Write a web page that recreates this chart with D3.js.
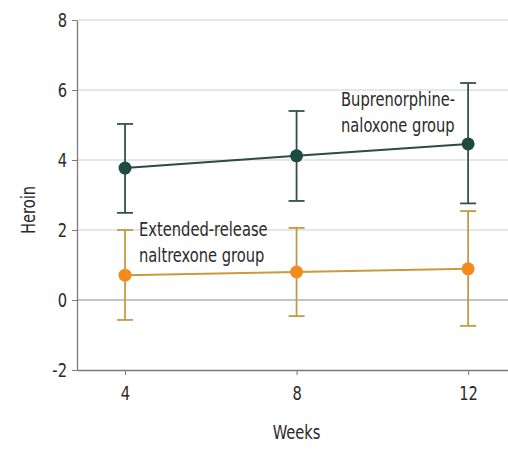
<!DOCTYPE html>
<html>
<head>
<meta charset="utf-8">
<script src="https://cdn.jsdelivr.net/npm/d3@7"></script>
<style>
  html, body { margin: 0; padding: 0; background: #fff; }
  svg { display: block; }
  text { font-family: "DejaVu Sans Condensed", "Liberation Sans Narrow", sans-serif; fill: #2a2a2a; }
</style>
</head>
<body>
<svg id="chart" width="508" height="450"></svg>
<script>
const weeks = [4, 8, 12];
const yTicks = [-2, 0, 2, 4, 6, 8];
const bupMean  = [3.77, 4.12, 4.46];
const bupLow   = [2.49, 2.83, 2.76];
const bupHigh  = [5.03, 5.40, 6.20];
const xrMean   = [0.71, 0.80, 0.89];
const xrLow    = [-0.57, -0.46, -0.74];
const xrHigh   = [2.00, 2.06, 2.54];
const bupLabel = ["Buprenorphine-", "naloxone group"];
const xrLabel  = ["Extended-release", "naltrexone group"];

const SX = 0.86;   // horizontal condensing of the text
const FS = 19;

const svg = d3.select("#chart");
const x = d3.scaleLinear().domain([2.88, 12.93]).range([77, 508]);
const y = d3.scaleLinear().domain([-2, 8]).range([370, 20]);

// gridlines
svg.append("g").selectAll("line")
  .data(yTicks.filter(d => d > 0))
  .join("line")
  .attr("x1", x.range()[0]).attr("x2", x.range()[1])
  .attr("y1", d => y(d)).attr("y2", d => y(d))
  .attr("stroke", "#dedede").attr("stroke-width", 1.5);
// zero line
svg.append("line")
  .attr("x1", x.range()[0]).attr("x2", x.range()[1])
  .attr("y1", y(0)).attr("y2", y(0))
  .attr("stroke", "#8a8a8a").attr("stroke-width", 1.2);

// y axis
const yAxis = svg.append("g").attr("transform", `translate(${x.range()[0]},0)`)
  .call(d3.axisLeft(y).tickValues(yTicks).tickSize(5).tickSizeOuter(0).tickPadding(5).tickFormat(d3.format("d")));
yAxis.select(".domain").attr("stroke", "#7a7a7a").attr("stroke-width", 1.3);
yAxis.selectAll(".tick line").attr("stroke", "#7a7a7a");
yAxis.selectAll(".tick text").attr("font-size", FS).attr("fill", "#2a2a2a")
  .attr("x", -10 / SX).attr("transform", `scale(${SX},1)`)
  .text(d => d < 0 ? "-" + Math.abs(d) : d);

// x axis
const xAxis = svg.append("g").attr("transform", `translate(0,${y(-2)})`)
  .call(d3.axisBottom(x).tickValues(weeks).tickSize(5).tickSizeOuter(0).tickPadding(12));
xAxis.select(".domain").attr("stroke", "#7a7a7a").attr("stroke-width", 1.3);
xAxis.selectAll(".tick line").attr("stroke", "#7a7a7a");
xAxis.selectAll(".tick text").attr("font-size", FS).attr("fill", "#2a2a2a")
  .attr("transform", `scale(${SX},1)`);

// axis titles
svg.append("g").attr("transform", `translate(${x(8)},439) scale(${SX},1)`)
  .append("text").attr("text-anchor", "middle").attr("font-size", FS).text("Weeks");
svg.append("g").attr("transform", `translate(35,${(y(-2) + y(8)) / 2 + 15}) rotate(-90) scale(${SX},1)`)
  .append("text").attr("text-anchor", "middle").attr("font-size", FS).text("Heroin");

function drawSeries(mean, low, high, lineColor, barColor, dotColor) {
  const g = svg.append("g");
  const data = weeks.map((w, i) => ({ w, m: mean[i], lo: low[i], hi: high[i] }));
  const capW = 8;
  g.selectAll("line.v").data(data).join("line")
    .attr("x1", d => x(d.w)).attr("x2", d => x(d.w))
    .attr("y1", d => y(d.lo)).attr("y2", d => y(d.hi))
    .attr("stroke", barColor).attr("stroke-width", 1.8);
  g.selectAll("line.ct").data(data).join("line")
    .attr("x1", d => x(d.w) - capW).attr("x2", d => x(d.w) + capW)
    .attr("y1", d => y(d.hi)).attr("y2", d => y(d.hi))
    .attr("stroke", barColor).attr("stroke-width", 1.8);
  g.selectAll("line.cb").data(data).join("line")
    .attr("x1", d => x(d.w) - capW).attr("x2", d => x(d.w) + capW)
    .attr("y1", d => y(d.lo)).attr("y2", d => y(d.lo))
    .attr("stroke", barColor).attr("stroke-width", 1.8);
  g.append("path").datum(data)
    .attr("d", d3.line().x(d => x(d.w)).y(d => y(d.m)))
    .attr("fill", "none").attr("stroke", lineColor).attr("stroke-width", 2);
  g.selectAll("circle").data(data).join("circle")
    .attr("cx", d => x(d.w)).attr("cy", d => y(d.m)).attr("r", 6.5)
    .attr("fill", dotColor);
}

drawSeries(xrMean, xrLow, xrHigh, "#c99a3e", "#c39a48", "#f28c1e");
drawSeries(bupMean, bupLow, bupHigh, "#2e4a44", "#34504a", "#1f4a40");

// labels
function block(lines, x0, y0) {
  const g = svg.append("g").attr("transform", `translate(${x0},${y0}) scale(${SX},1)`);
  const t = g.append("text").attr("font-size", FS);
  lines.forEach((s, i) => t.append("tspan").attr("x", 0).attr("y", i * 26).text(s));
}
block(bupLabel, 341, 106);
block(xrLabel, 139, 236);
</script>
</body>
</html>
